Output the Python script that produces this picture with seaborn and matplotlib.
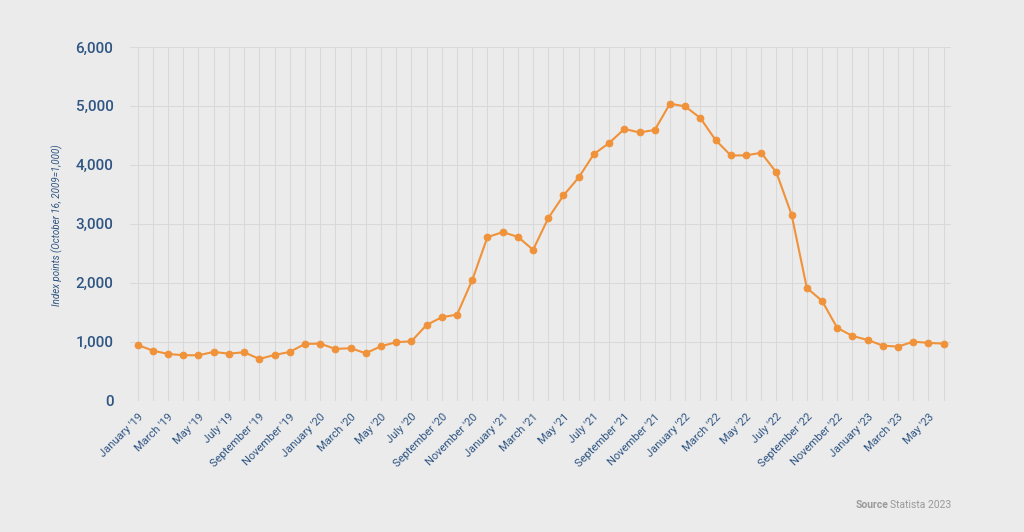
import numpy as np
import pandas as pd
import matplotlib
matplotlib.use("Agg")
import matplotlib.pyplot as plt
import seaborn as sns

# monthly index, January 2019 - June 2023
month_names = ["January", "February", "March", "April", "May", "June", "July",
               "August", "September", "October", "November", "December"]
years = ["19", "20", "21", "22", "23"]
month_labels = [f"{m} '{y}" for y in years for m in month_names][:54]

index_values = [
    946, 849, 793, 771, 771, 827, 798, 822, 708, 776, 827, 963,    # 2019
    968, 878, 890, 805, 924, 992, 1008, 1285, 1416, 1460, 2046, 2774,  # 2020
    2859, 2779, 2559, 3096, 3481, 3786, 4183, 4370, 4608, 4550, 4591, 5037,  # 2021
    4992, 4794, 4421, 4160, 4160, 4205, 3871, 3153, 1913, 1693, 1234, 1098,  # 2022
    1030, 934, 917, 1002, 980, 968,  # 2023
]

y_ticks = [0, 1000, 2000, 3000, 4000, 5000, 6000]

bg = "#ebebeb"
grid_col = "#d9d9d9"
text_col = "#2f5583"
line_col = "#f0923a"

df = pd.DataFrame({"pos": np.arange(len(index_values)),
                   "month": month_labels,
                   "value": index_values})

sns.set_style("whitegrid")
plt.rcParams["font.family"] = ["Roboto", "DejaVu Sans"]

fig = plt.figure(figsize=(10.24, 5.32), dpi=100, facecolor=bg)
ax = fig.add_axes([0.127, 0.2468, 0.802, 0.665])
ax.set_facecolor(bg)

sns.lineplot(data=df, x="pos", y="value", ax=ax, color=line_col,
             linewidth=1.5, marker="o", markersize=4.8,
             markeredgecolor=line_col, zorder=3)

ax.set_xlim(-0.5, len(index_values) - 0.5)
ax.set_ylim(0, 6000)
ax.set_yticks(y_ticks)
ax.set_yticklabels([f"{v:,}" for v in y_ticks], fontsize=11, color=text_col,
                   fontweight="medium")

# grid at every month, labels every second month
ax.set_xticks(df["pos"], minor=True)
ax.set_xticks(df["pos"][::2])
ax.set_xticklabels(df["month"][::2], rotation=45, ha="right",
                   rotation_mode="anchor", fontsize=8, color=text_col)
ax.grid(True, which="both", axis="x", color=grid_col, linewidth=0.8)
ax.grid(True, axis="y", color=grid_col, linewidth=0.8)
ax.tick_params(axis="both", which="both", length=0)
ax.tick_params(axis="y", pad=12)
ax.tick_params(axis="x", pad=8)
for s in ax.spines.values():
    s.set_visible(False)
ax.set_xlabel("")
ax.set_ylabel("")

fig.text(57 / 1024, 1 - 225 / 532, "Index points (October 16, 2009=1,000)",
         rotation=90, ha="center", va="center", fontsize=7,
         style="italic", color=text_col)

fig.text(888 / 1024, 1 - 505 / 532, "Source", ha="right", va="center",
         fontsize=7.5, fontweight="bold", color="#9a9a9a")
fig.text(951 / 1024, 1 - 505 / 532, "Statista 2023", ha="right", va="center",
         fontsize=7.5, color="#9a9a9a")

plt.savefig("out.png", dpi=100, facecolor=bg)
